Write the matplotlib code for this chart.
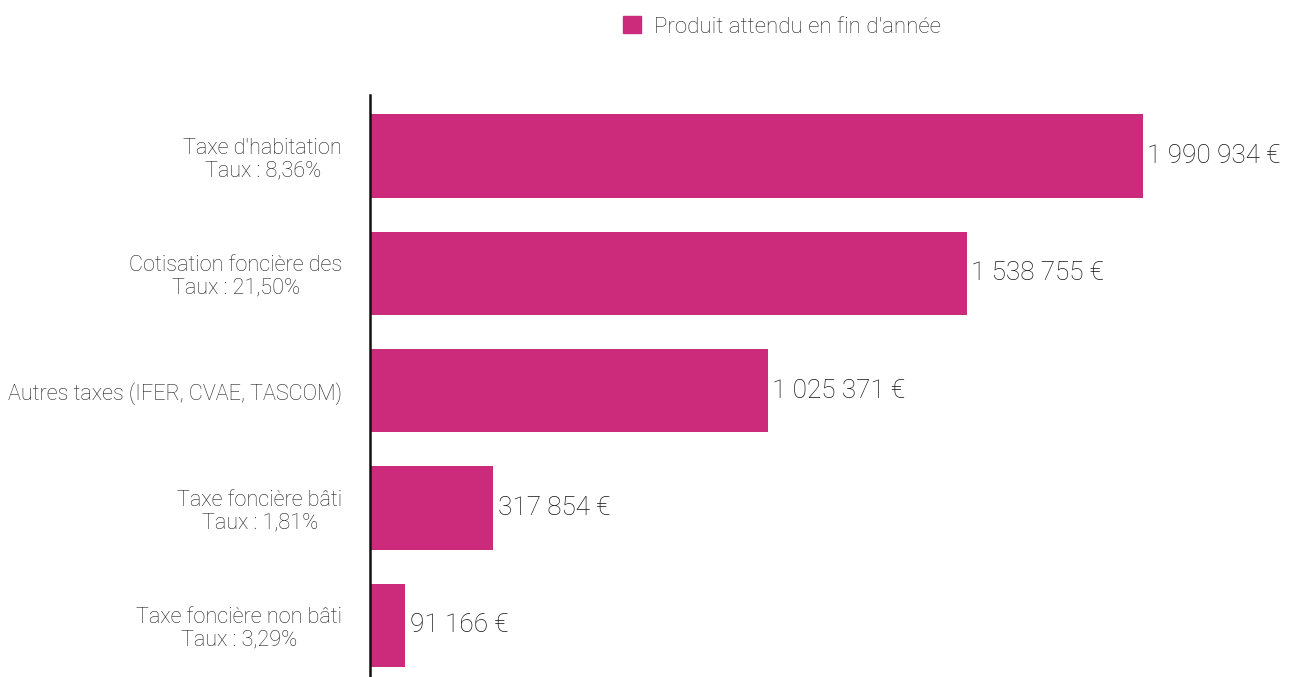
import matplotlib.pyplot as plt
from matplotlib.patches import Patch

plt.rcParams['font.family'] = ['Roboto', 'DejaVu Sans']

# ── Data ─────────────────────────────────────────────────────────────────────
categories = [
    "Taxe d'habitation\nTaux : 8,36%",
    "Cotisation foncière des\nTaux : 21,50%",
    "Autres taxes (IFER, CVAE, TASCOM)",
    "Taxe foncière bâti\nTaux : 1,81%",
    "Taxe foncière non bâti\nTaux : 3,29%",
]
values = [1990934, 1538755, 1025371, 317854, 91166]
series_name = "Produit attendu en fin d'année"

BAR_COLOR = '#CC2A7A'
TEXT_COLOR = '#222222'

def fmt_euro(v):
    return f"{v:,}".replace(',', ' ') + ' €'

# ── Plot ─────────────────────────────────────────────────────────────────────
fig = plt.figure(figsize=(12.93, 6.77), dpi=100)
ax = fig.add_axes([370 / 1293, 0, 1 - 370 / 1293, 1 - 95 / 677])

pos = list(range(len(categories)))
ax.barh(pos, values, height=0.71, color=BAR_COLOR)

for y, v in zip(pos, values):
    ax.annotate(fmt_euro(v), (v, y), xytext=(3, 0), textcoords='offset points',
                va='center', ha='left', fontsize=18.8, fontweight='light',
                color='#111111')

ax.set_ylim(4.44, -0.52)
ax.set_xlim(0, 2378000)

ax.set_yticks(pos)
ax.set_yticklabels(categories, fontsize=15.6, fontweight='light', color=TEXT_COLOR,
                   linespacing=1.1)
for lab in ax.get_yticklabels():
    lab.set_multialignment('center')
ax.tick_params(axis='y', length=0, pad=20)
ax.set_xticks([])

for side in ('top', 'right', 'bottom'):
    ax.spines[side].set_visible(False)
ax.spines['left'].set_color('#111111')
ax.spines['left'].set_linewidth(1.8)

leg = fig.legend(handles=[Patch(color=BAR_COLOR, label=series_name)],
                 loc='center', bbox_to_anchor=(782 / 1293, 1 - 27 / 677),
                 frameon=False, handlelength=0.8, handleheight=0.8,
                 handletextpad=0.6, prop={'size': 16, 'weight': 'light'})
for t in leg.get_texts():
    t.set_color(TEXT_COLOR)

fig.savefig('out.png', dpi=100)
